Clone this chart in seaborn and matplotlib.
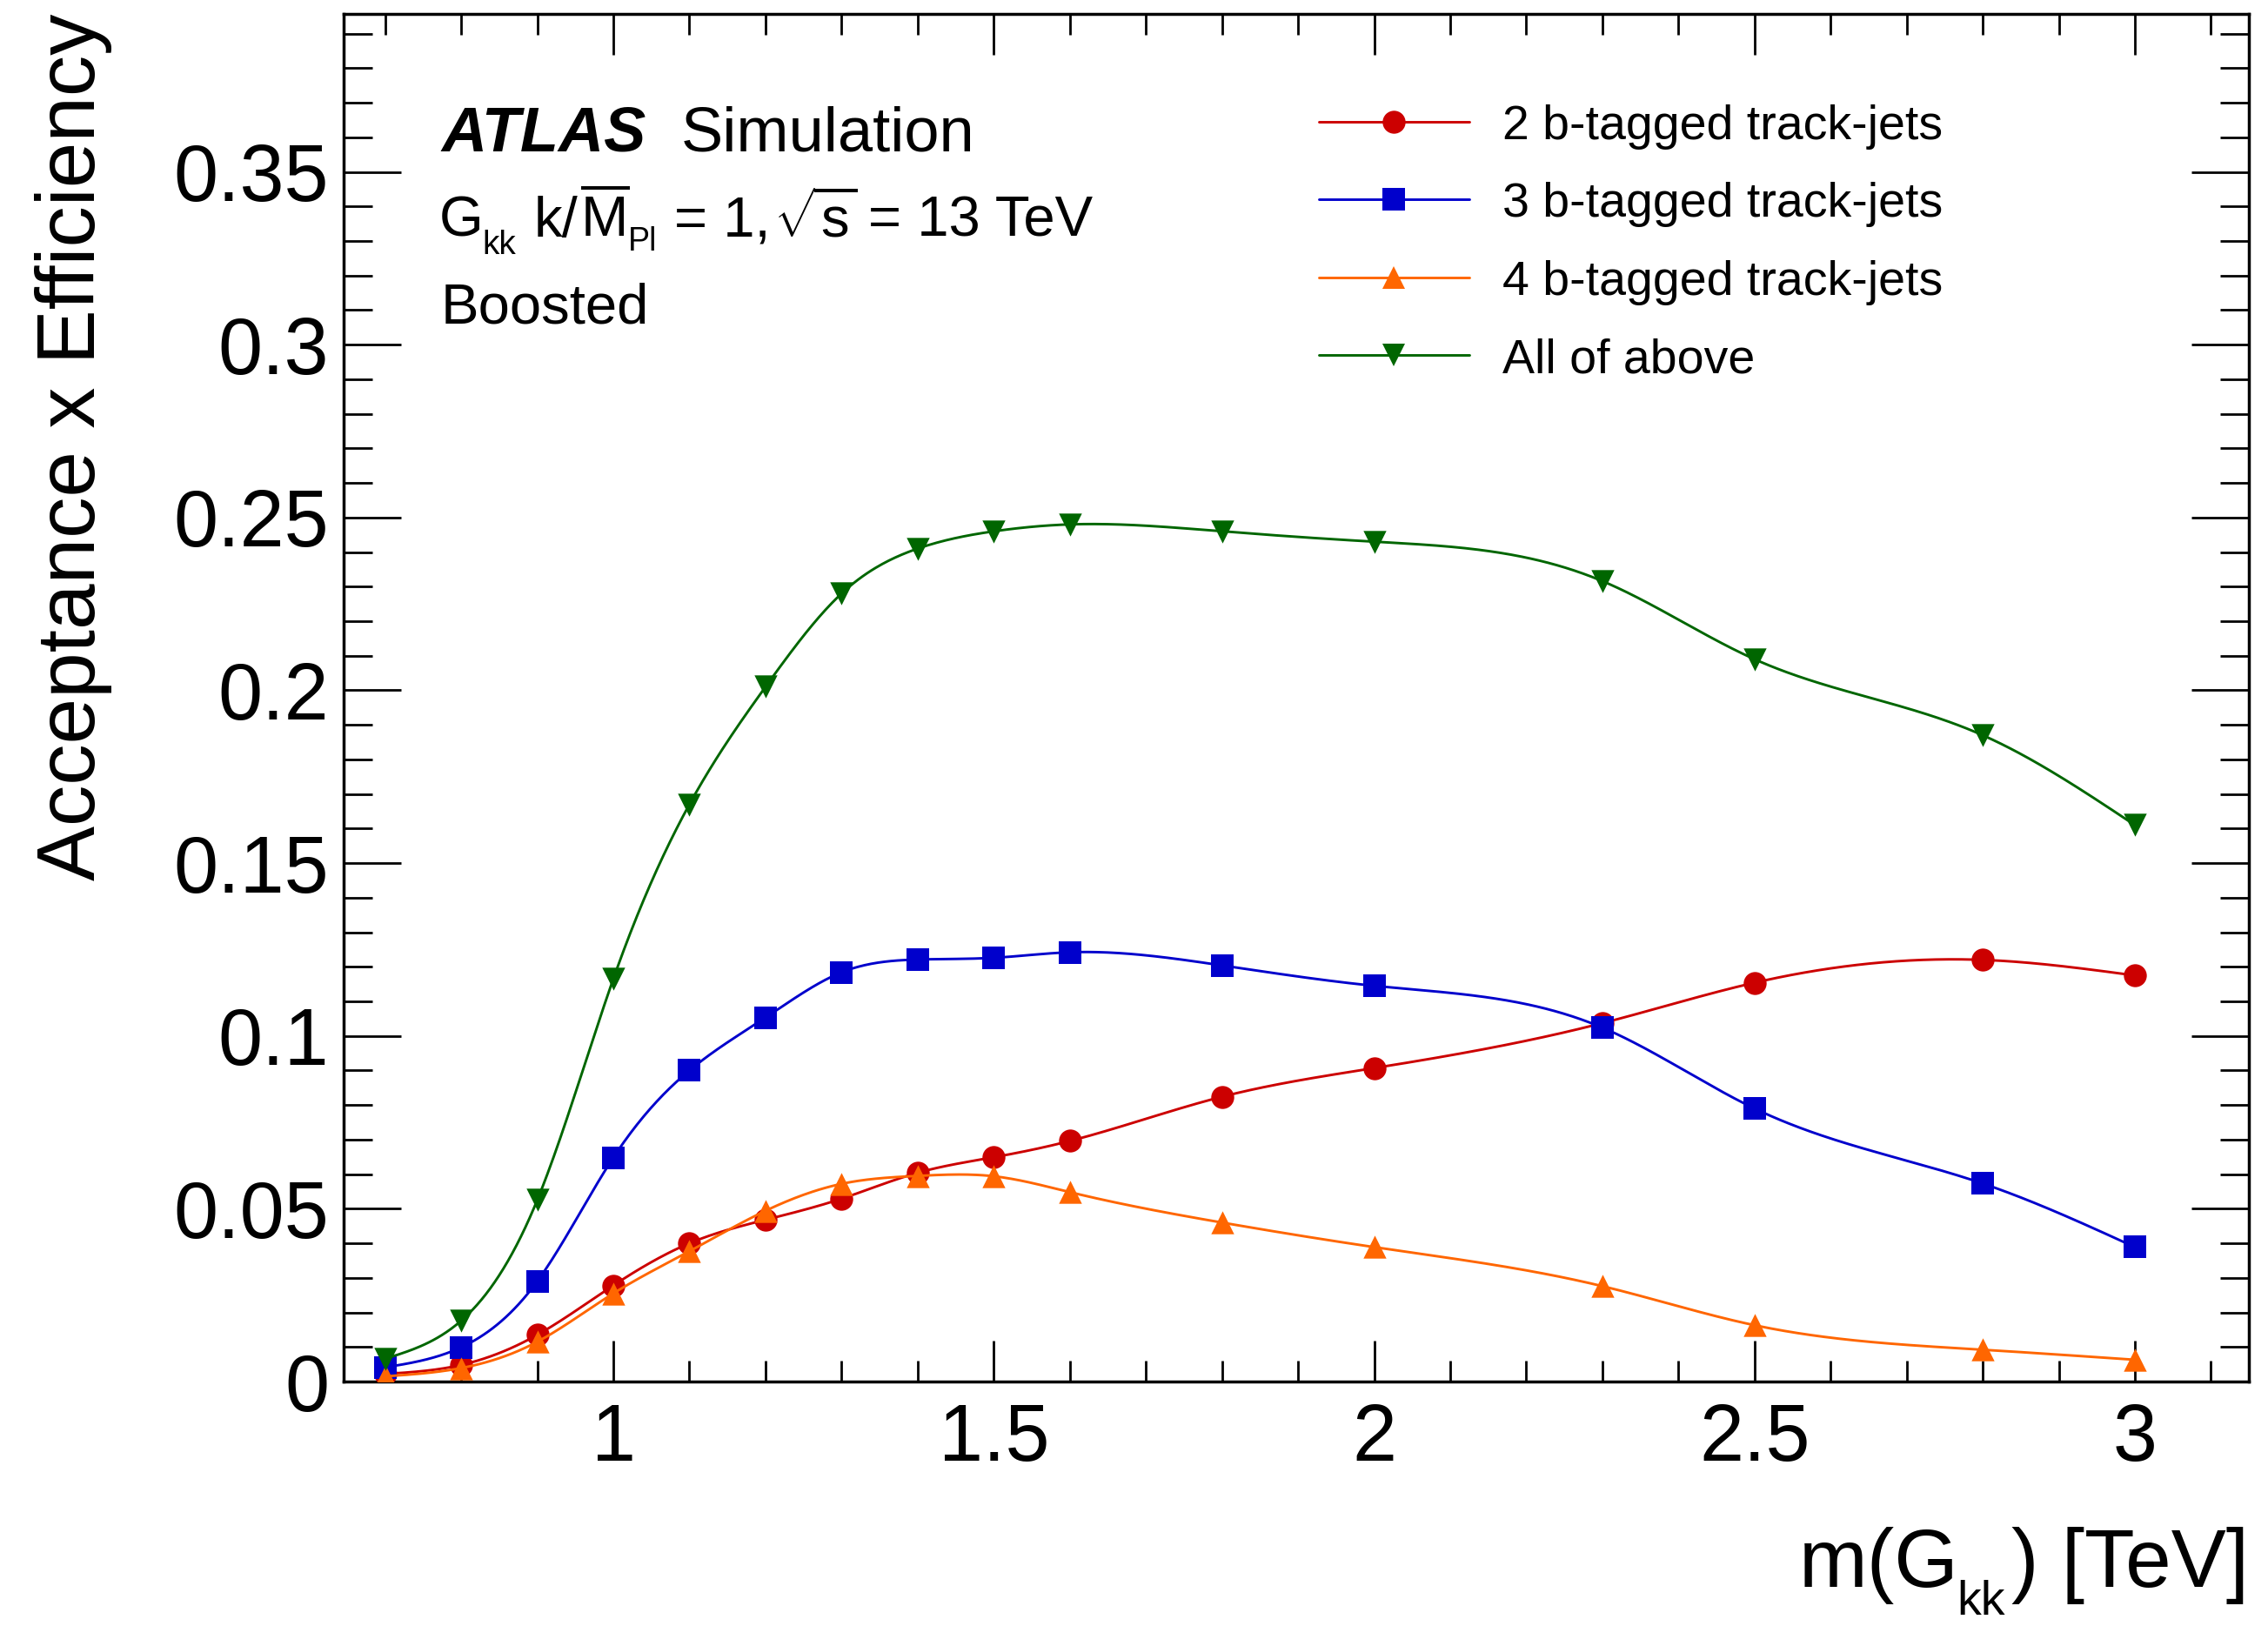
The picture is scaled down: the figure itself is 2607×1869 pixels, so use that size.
import numpy as np
import matplotlib
matplotlib.use("Agg")
import matplotlib.pyplot as plt
import seaborn as sns
from matplotlib.lines import Line2D
from matplotlib.ticker import MultipleLocator, FuncFormatter

# Graviton mass points [TeV]
mass_tev = [0.7, 0.8, 0.9, 1.0, 1.1, 1.2, 1.3, 1.4, 1.5, 1.6, 1.8, 2.0, 2.3, 2.5, 2.8, 3.0]

# Acceptance x efficiency per b-tag category
eff_2b = [0.0022, 0.0048, 0.0135, 0.0278, 0.0400, 0.0468, 0.0529, 0.0604, 0.0649, 0.0696,
          0.0824, 0.0907, 0.1037, 0.1154, 0.1220, 0.1175]
eff_3b = [0.0041, 0.0099, 0.0290, 0.0648, 0.0900, 0.1053, 0.1184, 0.1221, 0.1226, 0.1242,
          0.1204, 0.1145, 0.1024, 0.0790, 0.0573, 0.0389]
eff_4b = [0.0015, 0.0039, 0.0115, 0.0255, 0.0377, 0.0494, 0.0572, 0.0595, 0.0594, 0.0548,
          0.0460, 0.0389, 0.0276, 0.0163, 0.0092, 0.0063]
eff_all = [0.0066, 0.0176, 0.0525, 0.1165, 0.1670, 0.2010, 0.2280, 0.2410, 0.2460, 0.2480,
           0.2460, 0.2430, 0.2316, 0.2090, 0.1870, 0.1610]

series_labels = ["2 b-tagged track-jets", "3 b-tagged track-jets",
                 "4 b-tagged track-jets", "All of above"]
series_values = [eff_2b, eff_3b, eff_4b, eff_all]
series_colors = ["#cc0000", "#0000cc", "#ff6600", "#006600"]
series_markers = ["o", "s", "^", "v"]

x_ticks = [1.0, 1.5, 2.0, 2.5, 3.0]
y_ticks = [0.0, 0.05, 0.10, 0.15, 0.20, 0.25, 0.30, 0.35]

sns.set_theme(style="ticks")
plt.rcParams.update({
    "font.family": ["Liberation Sans", "DejaVu Sans"],
    "mathtext.fontset": "custom",
    "mathtext.rm": "Liberation Sans",
    "mathtext.it": "Liberation Sans:italic",
    "mathtext.bf": "Liberation Sans:bold",
    "mathtext.sf": "Liberation Sans",
    "mathtext.default": "regular",
    "axes.edgecolor": "black",
    "axes.labelcolor": "black",
    "xtick.color": "black",
    "ytick.color": "black",
    "xtick.labelcolor": "black",
    "ytick.labelcolor": "black",
    "text.color": "black",
})


def natural_spline(x, y, xs):
    """Natural cubic spline through (x, y), evaluated at xs."""
    x = np.asarray(x, float)
    y = np.asarray(y, float)
    n = len(x)
    h = np.diff(x)
    A = np.zeros((n, n))
    r = np.zeros(n)
    A[0, 0] = A[-1, -1] = 1.0
    for i in range(1, n - 1):
        A[i, i - 1] = h[i - 1]
        A[i, i] = 2.0 * (h[i - 1] + h[i])
        A[i, i + 1] = h[i]
        r[i] = 6.0 * ((y[i + 1] - y[i]) / h[i] - (y[i] - y[i - 1]) / h[i - 1])
    M = np.linalg.solve(A, r)
    idx = np.clip(np.searchsorted(x, xs) - 1, 0, n - 2)
    x0, x1 = x[idx], x[idx + 1]
    hh = x1 - x0
    t0 = x1 - xs
    t1 = xs - x0
    return ((M[idx] * t0 ** 3 + M[idx + 1] * t1 ** 3) / (6 * hh)
            + (y[idx] / hh - M[idx] * hh / 6) * t0
            + (y[idx + 1] / hh - M[idx + 1] * hh / 6) * t1)


W, H = 2607, 1869
fig = plt.figure(figsize=(W / 100, H / 100), dpi=100)
fig.patch.set_facecolor("white")


def fx(px):
    return px / W


def fy(py):
    return 1 - py / H


def put(s, x_px, base_px, size, **kw):
    return fig.text(fx(x_px), fy(base_px), s, fontsize=size, va="baseline", **kw)


# axes frame in pixel units
ax_l, ax_r, ax_t, ax_b = 395, 2585, 16, 1588
ax = fig.add_axes([ax_l / W, 1 - ax_b / H, (ax_r - ax_l) / W, (ax_b - ax_t) / H])
ax.set_facecolor("white")

LW = 2.1
MS = 19
x_dense = np.linspace(min(mass_tev), max(mass_tev), 800)
for i, (vals, col, mk) in enumerate(zip(series_values, series_colors, series_markers)):
    y_dense = natural_spline(mass_tev, vals, x_dense)
    sns.lineplot(x=x_dense, y=y_dense, ax=ax, color=col, linewidth=LW,
                 estimator=None, sort=False, legend=False, zorder=3 + 2 * i)
    sns.scatterplot(x=mass_tev, y=vals, ax=ax, color=col, marker=mk, s=MS ** 2,
                    linewidth=0, edgecolor=col, legend=False, zorder=4 + 2 * i)

ax.set_xlim(0.6455, 3.1498)
ax.set_ylim(0.0, 0.3957)

ax.xaxis.set_major_locator(plt.FixedLocator(x_ticks))
ax.xaxis.set_minor_locator(MultipleLocator(0.1))
ax.yaxis.set_major_locator(plt.FixedLocator(y_ticks))
ax.yaxis.set_minor_locator(MultipleLocator(0.01))
fmt = FuncFormatter(lambda v, p: f"{v:g}")
ax.xaxis.set_major_formatter(fmt)
ax.yaxis.set_major_formatter(fmt)

ax.tick_params(axis="x", which="major", direction="in", length=34, width=2,
               top=True, bottom=True, labelsize=66, pad=17)
ax.tick_params(axis="x", which="minor", direction="in", length=17, width=2,
               top=True, bottom=True)
ax.tick_params(axis="y", which="major", direction="in", length=47.5, width=2,
               left=True, right=True, labelsize=66, pad=12)
ax.tick_params(axis="y", which="minor", direction="in", length=24, width=2,
               left=True, right=True)
for sp in ax.spines.values():
    sp.set_visible(True)
    sp.set_linewidth(2.5)
    sp.set_color("black")
ax.set_xlabel("")

ax.set_ylabel("Acceptance x Efficiency", fontsize=68, loc="top", color="black")
ax.yaxis.set_label_coords((129 - ax_l) / (ax_r - ax_l), 1.0)

# x-axis title with a low-set subscript
put("m(G", 2068, 1824, 68)
put("kk", 2249, 1856, 40)
fig.text(fx(2585), fy(1824), ") [TeV]", fontsize=68, va="baseline", ha="right")

# ATLAS label block
put("ATLAS", 507, 174, 52, fontweight="bold", fontstyle="italic")
put("Simulation", 783, 174, 52)
put("G", 505, 272, 47)
put("kk", 554, 292, 28)
put("k/", 614, 272, 47)
put(r"$\overline{M}$", 667, 272, 47)
put("Pl", 722, 288, 27)
put("= 1,", 775, 272, 47)
put(r"$\sqrt{s}$", 889, 272, 47)
put("= 13 TeV", 998, 272, 47)
put("Boosted", 507, 372, 47)

# legend
row_y = [140, 229, 319, 408]
for ry, lab, col, mk in zip(row_y, series_labels, series_colors, series_markers):
    fig.add_artist(Line2D([fx(1516), fx(1689)], [fy(ry), fy(ry)], color=col, lw=LW))
    fig.add_artist(Line2D([fx(1602)], [fy(ry)], color=col, marker=mk, ms=MS,
                          mec=col, mew=0, ls="none"))
    put(lab, 1727, ry + 20, 40)

fig.savefig("out.png", dpi=100, facecolor="white")
